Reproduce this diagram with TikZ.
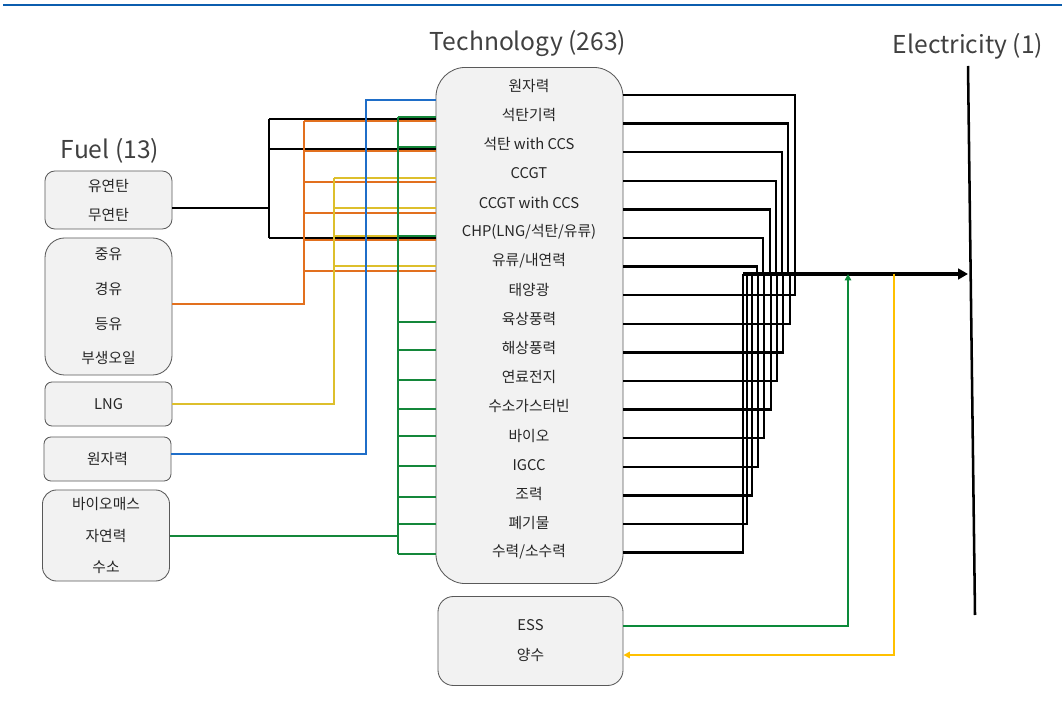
\documentclass[tikz,border=0pt]{standalone}
\usepackage{fontspec}
\setmainfont{Noto Sans CJK KR}
\usepackage{tikz}
\usetikzlibrary{arrows.meta, calc}

\definecolor{boxfill}{HTML}{F2F2F2}
\definecolor{boxline}{HTML}{595959}
\definecolor{txtgray}{HTML}{262626}
\definecolor{titlegray}{HTML}{404040}
\definecolor{topblue}{HTML}{0B5DAE}
\definecolor{coalc}{HTML}{000000}
\definecolor{oilc}{HTML}{E2701E}
\definecolor{lngc}{HTML}{DDBF2C}
\definecolor{nucc}{HTML}{1F6EC8}
\definecolor{renc}{HTML}{14873A}
\definecolor{essg}{HTML}{0C8A3A}
\definecolor{essy}{HTML}{FFC000}

\begin{document}
\begin{tikzpicture}[
    x=0.025cm, y=-0.025cm,
    box/.style={draw=boxline, fill=boxfill, line width=0.6pt, align=center, inner sep=0pt, text=txtgray, font=\fontsize{10.5}{20.6}\selectfont},
    fuel/.style={box, minimum width=3.175cm},
    title/.style={font=\fontsize{17.5}{21}\selectfont, text=titlegray},
    item/.style={inner sep=0pt, text=txtgray, font=\fontsize{10.5}{12}\selectfont},
    wire/.style={line width=1.6pt},
    outline/.style={line width=1.7pt, black},
    busline/.style={line width=3.2pt, black, -{Triangle[length=7pt, width=7.5pt]}},
    smallarrow/.style={line width=1.5pt, -{Triangle[length=4.5pt, width=4.5pt]}},
]
\useasboundingbox (0,0) rectangle (1062,707);
\draw[topblue, line width=1.4pt] (3,5) -- (1062,5);

% titles
\node[title] (tfuel) at (110,151) {Fuel (13)};
\node[title] (ttech) at (528,44) {Technology (263)};
\node[title] (telec) at (968,46) {Electricity (1)};

% fuel boxes
\node[fuel, minimum height=1.45cm, rounded corners=7pt] (fcoal) at (108.5,200) {유연탄\\무연탄};
\node[fuel, minimum height=3.425cm, rounded corners=14pt, font=\fontsize{10.5}{24.6}\selectfont] (foil) at (108.5,306.5) {중유\\경유\\등유\\부생오일};
\node[fuel, minimum height=1.1cm, rounded corners=5pt] (flng) at (108.5,404) {LNG};
\node[fuel, minimum height=1.1cm, rounded corners=5pt] (fnuc) at (107.5,459) {원자력};
\node[fuel, minimum height=2.275cm, rounded corners=10pt, font=\fontsize{10.5}{22.7}\selectfont] (fren) at (106,535.5) {바이오매스\\자연력\\수소};

% technology box
\node[box, minimum width=4.675cm, minimum height=12.9cm, rounded corners=21pt] (tech) at (529.5,325.5) {};
\foreach \name [count=\i from 0] in {원자력, 석탄기력, 석탄 with CCS, CCGT, CCGT with CCS, CHP(LNG/석탄/유류), 유류/내연력, 태양광, 육상풍력, 해상풍력, 연료전지, 수소가스터빈, 바이오, IGCC, 조력, 폐기물, 수력/소수력}
  \node[item] (t\i) at (529, {86+29.125*\i}) {\name};

% storage
\node[box, minimum width=4.625cm, minimum height=2.225cm, rounded corners=11pt, font=\fontsize{10.5}{21.3}\selectfont] (ess) at (530.5,641) {ESS\\양수};

% fuel -> technology
\coordinate (kcoal) at (269,0);
\coordinate (koil) at (304,0);
\coordinate (klng) at (334,0);
\coordinate (knuc) at (366,0);
\coordinate (kren) at (398,0);

\draw[wire, coalc] (fcoal.east |- 0,208) -- (kcoal |- 0,208);
\draw[wire, coalc] (kcoal |- 0,119) -- (kcoal |- 0,238);
\foreach \y in {119,149,238}
  \draw[wire, coalc] (kcoal |- 0,\y) -- (tech.west |- 0,\y);

\draw[wire, oilc] (foil.east |- 0,304) -| (koil |- 0,121);
\foreach \y in {121,151,182,213,240,271}
  \draw[wire, oilc] (koil |- 0,\y) -- (tech.west |- 0,\y);

\draw[wire, lngc] (flng.east |- 0,404) -| (klng |- 0,178);
\foreach \y in {178,208,236,266}
  \draw[wire, lngc] (klng |- 0,\y) -- (tech.west |- 0,\y);

\draw[wire, nucc] (fnuc.east |- 0,454) -| (knuc |- 0,100) -- (tech.west |- 0,100);

\draw[wire, renc] (fren.east |- 0,536) -- (kren |- 0,536);
\draw[wire, renc] (kren |- 0,117) -- (kren |- 0,554);
\foreach \y in {117,147,236,322,350,380,409,436,466,497,524,554}
  \draw[wire, renc] (kren |- 0,\y) -- (tech.west |- 0,\y);

% technology -> electricity
\coordinate (bus) at (743,274);
\coordinate (etop) at (968,66);
\coordinate (ebot) at (975,615);
\coordinate (ein) at (968,274);
\foreach \xr [count=\i from 0, evaluate=\i as \yy using 95+28.6*\i] in {795,788,782,776,770,763,757,795,790,783,777,771,764,758,752,747,743}
  \draw[outline] (tech.east |- 0,\yy) -| (bus -| \xr,0);
\draw[busline] (bus) -- (ein);
\draw[line width=1.8pt] (etop) -- (ebot);

% storage loop
\draw[smallarrow, essg] (ess.east |- 0,626) -| (bus -| 848,278);
\draw[smallarrow, essy] (bus -| 894,0) |- (ess.east |- 0,655);
\end{tikzpicture}
\end{document}
